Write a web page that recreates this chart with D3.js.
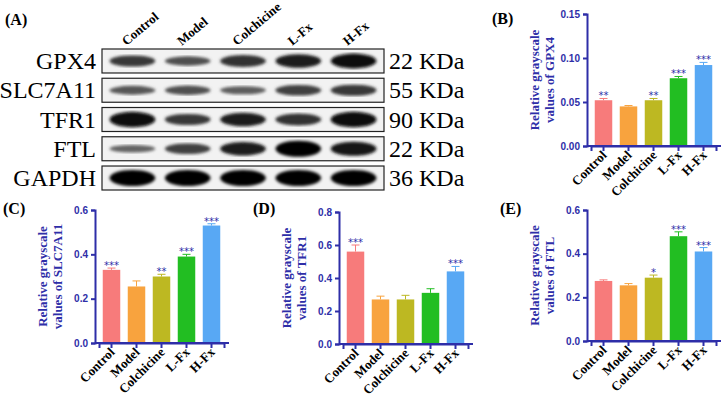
<!DOCTYPE html><html><head><meta charset="utf-8"><script src="https://cdn.jsdelivr.net/npm/d3@7"></script>
<style>body{margin:0;background:#fff}</style></head><body><svg id="c" width="721" height="402"></svg>
<script>
const groups = ["Control","Model","Colchicine","L-Fx","H-Fx"];
const colors = ["#F77B7B","#F8A33E","#BDB822","#22BE22","#58A8F4"];
const gpx4 = [0.052,0.045,0.052,0.077,0.092], gpx4Err=[0.002,0.001,0.002,0.002,0.003], gpx4Sig=["**","","**","***","***"];
const slc = [0.33,0.255,0.30,0.39,0.53], slcErr=[0.008,0.025,0.01,0.01,0.008], slcSig=["***","","**","***","***"];
const tfr = [0.56,0.27,0.27,0.31,0.44], tfrErr=[0.04,0.02,0.025,0.025,0.03], tfrSig=["***","","","","***"];
const ftl = [0.275,0.255,0.29,0.48,0.41], ftlErr=[0.005,0.008,0.012,0.02,0.018], ftlSig=["","","*","***","***"];
const blotRows = ["GPX4","SLC7A11","TFR1","FTL","GAPDH"];
const blotKDa = ["22 KDa","55 KDa","90 KDa","22 KDa","36 KDa"];
const blotIntensity = [[0.6,0.45,0.65,0.8,0.9],[0.4,0.45,0.35,0.55,0.6],[0.95,0.6,0.8,0.65,0.95],[0.3,0.55,0.8,1,0.85],[1,1,1,1,1]];
const ticksB=[0,0.05,0.10,0.15], ticks6=[0,0.2,0.4,0.6], ticks8=[0,0.2,0.4,0.6,0.8];

const svg=d3.select("#c");
const AX="#2E2EA8";
svg.append("defs").append("filter").attr("id","blur").append("feGaussianBlur").attr("stdDeviation",1.6);

svg.append("text").text("(A)").attr("x",5).attr("y",25).attr("font-family","Liberation Serif").attr("font-weight","bold").attr("font-size",16);
const lane=d3.scaleBand().domain(groups).range([102,384]).padding(0.1);
const rowY=d3.scaleBand().domain(blotRows).range([49,190]).paddingInner(0.18);
groups.forEach(g=>{
  const gg=svg.append("g").attr("transform",`translate(${lane(g)+lane.bandwidth()/2-6},46)`);
  gg.append("text").text(g).attr("transform","rotate(-40)").attr("text-anchor","start")
    .attr("font-family","Liberation Serif").attr("font-weight","bold").attr("font-size",13);
});
blotRows.forEach((r,i)=>{
  const y=rowY(r),h=rowY.bandwidth();
  svg.append("rect").attr("x",102).attr("y",y).attr("width",282).attr("height",h).attr("fill","#f2f2f2").attr("stroke","#222").attr("stroke-width",1.2);
  groups.forEach((g,j)=>{
    const v=blotIntensity[i][j];
    svg.append("ellipse").attr("cx",lane(g)+lane.bandwidth()/2).attr("cy",y+h/2).attr("rx",lane.bandwidth()/2-2).attr("ry",2+v*6)
      .attr("fill",d3.interpolateGreys(0.55+0.45*v)).attr("filter","url(#blur)");
  });
  svg.append("text").text(r).attr("x",96).attr("y",y+h/2+8).attr("text-anchor","end").attr("font-family","Liberation Serif").attr("font-size",24);
  svg.append("text").text(blotKDa[i]).attr("x",389).attr("y",y+h/2+8).attr("font-family","Liberation Serif").attr("font-size",24);
});

function panel(o){
  const g=svg.append("g");
  const y=d3.scaleLinear().domain([0,o.max]).range([o.y0,o.y1]);
  const x=d3.scaleBand().domain(groups).range([o.x0+4,o.x0+4+125]).paddingInner(0.3).paddingOuter(0.15);
  g.append("text").text(o.label).attr("x",o.lx).attr("y",o.ly).attr("font-family","Liberation Serif").attr("font-weight","bold").attr("font-size",16);
  o.vals.forEach((v,i)=>{
    const cx=x(groups[i])+x.bandwidth()/2;
    g.append("rect").attr("x",x(groups[i])).attr("width",x.bandwidth()).attr("y",y(v)).attr("height",y(0)-y(v)).attr("fill",colors[i]);
    g.append("line").attr("x1",cx).attr("x2",cx).attr("y1",y(v)).attr("y2",y(v+o.err[i])).attr("stroke",colors[i]).attr("stroke-width",1);
    g.append("line").attr("x1",cx-4).attr("x2",cx+4).attr("y1",y(v+o.err[i])).attr("y2",y(v+o.err[i])).attr("stroke",colors[i]).attr("stroke-width",1);
    if(o.sig[i]) g.append("text").text(o.sig[i]).attr("x",cx).attr("y",y(v+o.err[i])+1).attr("text-anchor","middle").attr("fill",AX).attr("font-size",10).attr("font-family","DejaVu Sans");
  });
  const ya=g.append("g").attr("transform",`translate(${o.x0},0)`).call(d3.axisLeft(y).tickValues(o.ticks).tickFormat(d3.format(o.fmt)).tickSize(4));
  const xa=g.append("g").attr("transform",`translate(0,${o.y0})`).call(d3.axisBottom(x).tickSize(5).tickFormat(""));
  g.append("line").attr("x1",o.x0).attr("x2",o.x0+134).attr("y1",o.y0).attr("y2",o.y0).attr("stroke",AX).attr("stroke-width",2);
  [ya,xa].forEach(a=>{a.selectAll("path,line").attr("stroke",AX).attr("stroke-width",2);});
  ya.selectAll("text").attr("fill",AX).attr("font-weight","bold").attr("font-size",10).attr("font-family","Liberation Sans");
  groups.forEach(gn=>g.append("text").text(gn).attr("text-anchor","end")
    .attr("transform",`translate(${x(gn)+x.bandwidth()/2+4},${o.y0+10}) rotate(-45)`)
    .attr("font-family","Liberation Serif").attr("font-weight","bold").attr("font-size",13));
  const t=g.append("text").attr("transform",`translate(${o.x0-40},${(o.y0+o.y1)/2}) rotate(-90)`).attr("text-anchor","middle")
    .attr("fill",AX).attr("font-family","Liberation Serif").attr("font-weight","bold").attr("font-size",13);
  t.append("tspan").attr("x",0).attr("dy",-8).text("Relative grayscale");
  t.append("tspan").attr("x",0).attr("dy",15).text("values of "+o.name);
}
panel({label:"(B)",lx:492,ly:24,x0:587,y0:146,y1:14,max:0.15,ticks:ticksB,fmt:".2f",vals:gpx4,err:gpx4Err,sig:gpx4Sig,name:"GPX4"});
panel({label:"(C)",lx:3,ly:214,x0:95,y0:343,y1:210,max:0.6,ticks:ticks6,fmt:".1f",vals:slc,err:slcErr,sig:slcSig,name:"SLC7A11"});
panel({label:"(D)",lx:253,ly:214,x0:339,y0:344,y1:212,max:0.8,ticks:ticks8,fmt:".1f",vals:tfr,err:tfrErr,sig:tfrSig,name:"TFR1"});
panel({label:"(E)",lx:500,ly:214,x0:587,y0:341,y1:210,max:0.6,ticks:ticks6,fmt:".1f",vals:ftl,err:ftlErr,sig:ftlSig,name:"FTL"});
</script></body></html>
